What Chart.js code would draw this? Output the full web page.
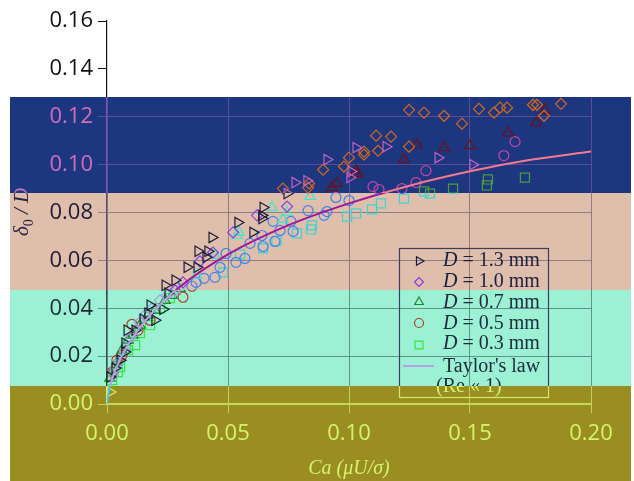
<!DOCTYPE html>
<html><head><meta charset="utf-8">
<script src="https://cdn.jsdelivr.net/npm/chart.js@4.4.1/dist/chart.umd.min.js"></script>
<style>
html,body{margin:0;padding:0;background:#fff;}
#wrap{position:relative;width:634px;height:481px;overflow:hidden;background:#fff;}
.layer{position:absolute;left:0;top:0;width:634px;height:481px;}
canvas{display:block;}
</style></head><body><div id="wrap"></div>
<script>
// ---- tick values / labels ----
const xTickValues = [0, 0.05, 0.10, 0.15, 0.20];
const xTickLabels = ['0.00', '0.05', '0.10', '0.15', '0.20'];
const yTickValues = [0, 0.02, 0.04, 0.06, 0.08, 0.10, 0.12, 0.14, 0.16];
const yTickLabels = ['0.00', '0.02', '0.04', '0.06', '0.08', '0.10', '0.12', '0.14', '0.16'];

// ---- series: D = 1.3 mm (right triangles) ----
const d13Ca = [0.0012,0.0012,0.0033,0.0054,0.0074,0.0074,0.0083,0.0116,0.0149,0.0169,0.0178,0.0198,0.0231,0.0252,0.0240,0.0281,0.0331,0.0372,0.0376,0.0417,0.0409,0.0434,0.0541,0.0603,0.0640,0.0640,0.0645,0.0744,0.0777,0.0826,0.0909,0.1004,0.1008,0.1029,0.1153,0.1368,0.1512];
const d13Delta = [0.0050,0.0113,0.0150,0.0183,0.0217,0.0254,0.0308,0.0308,0.0354,0.0379,0.0413,0.0350,0.0396,0.0463,0.0496,0.0517,0.0571,0.0571,0.0638,0.0638,0.0613,0.0696,0.0758,0.0717,0.0775,0.0788,0.0821,0.0879,0.0925,0.0933,0.1021,0.0946,0.0971,0.1071,0.1075,0.1029,0.1000];

// ---- D = 1.0 mm (diamonds) ----
const d10Ca = [0.0025,0.0037,0.0054,0.0074,0.0095,0.0116,0.0136,0.0157,0.0186,0.0219,0.0248,0.0281,0.0314,0.0384,0.0438,0.0521,0.0620,0.0744,0.0727,0.0831,0.0835,0.0893,0.0979,0.1000,0.1062,0.1062,0.1120,0.1112,0.1174,0.1248,0.1248,0.1310,0.1393,0.1467,0.1537,0.1599,0.1624,0.1653,0.1760,0.1777,0.1806,0.1876];
const d10Delta = [0.0121,0.0150,0.0183,0.0225,0.0275,0.0308,0.0342,0.0371,0.0400,0.0433,0.0454,0.0475,0.0508,0.0596,0.0633,0.0717,0.0788,0.0825,0.0900,0.0904,0.0921,0.0979,0.0992,0.1029,0.1054,0.1042,0.1058,0.1121,0.1117,0.1075,0.1229,0.1217,0.1204,0.1171,0.1233,0.1217,0.1238,0.1238,0.1250,0.1250,0.1204,0.1254];

// ---- D = 0.7 mm (triangles) ----
const d07Ca = [0.0012,0.0025,0.0041,0.0062,0.0087,0.0107,0.0136,0.0169,0.0198,0.0240,0.0269,0.0302,0.0372,0.0446,0.0537,0.0545,0.0682,0.0727,0.0744,0.0839,0.0930,0.0950,0.1029,0.1033,0.1227,0.1281,0.1393,0.1500,0.1657,0.1773,0.1810];
const d07Delta = [0.0108,0.0142,0.0175,0.0225,0.0267,0.0288,0.0329,0.0371,0.0392,0.0433,0.0454,0.0483,0.0538,0.0621,0.0704,0.0717,0.0821,0.0771,0.0800,0.0867,0.0904,0.0921,0.0975,0.0962,0.1021,0.1083,0.1071,0.1079,0.1133,0.1175,0.1229];

// ---- D = 0.5 mm (circles) ----
const d05Ca = [0.0021,0.0041,0.0062,0.0103,0.0128,0.0178,0.0314,0.0351,0.0368,0.0401,0.0446,0.0467,0.0492,0.0533,0.0570,0.0591,0.0640,0.0645,0.0694,0.0686,0.0715,0.0769,0.0760,0.0831,0.0897,0.0909,0.0946,0.1000,0.1099,0.1124,0.1219,0.1277,0.1318,0.1640,0.1686];
const d05Delta = [0.0133,0.0183,0.0204,0.0333,0.0308,0.0350,0.0446,0.0492,0.0508,0.0525,0.0529,0.0571,0.0629,0.0592,0.0608,0.0671,0.0704,0.0658,0.0679,0.0763,0.0725,0.0721,0.0763,0.0808,0.0788,0.0804,0.0863,0.0850,0.0908,0.0896,0.0900,0.0925,0.0975,0.1038,0.1096];

// ---- D = 0.3 mm (squares) ----
const d03Ca = [0.0021,0.0045,0.0054,0.0087,0.0116,0.0136,0.0178,0.0219,0.0260,0.0480,0.0550,0.0645,0.0700,0.0785,0.0843,0.0847,0.0992,0.1029,0.1095,0.1132,0.1227,0.1310,0.1335,0.1430,0.1574,0.1570,0.1727];
const d03Delta = [0.0100,0.0133,0.0154,0.0225,0.0246,0.0296,0.0329,0.0400,0.0442,0.0550,0.0625,0.0650,0.0680,0.0713,0.0729,0.0746,0.0783,0.0796,0.0813,0.0838,0.0858,0.0888,0.0879,0.0900,0.0938,0.0913,0.0946];

// ---- Taylor's law curve ----
const taylorCa = [0, 0.001, 0.0025, 0.005, 0.01, 0.02, 0.03, 0.05, 0.075, 0.10, 0.125, 0.15, 0.175, 0.20];
const taylorDelta = [0, 0.0065, 0.0116, 0.0178, 0.0269, 0.0396, 0.0489, 0.0625, 0.0747, 0.0838, 0.0912, 0.0972, 0.1020, 0.1055];

const seriesNames = ['1.3', '1.0', '0.7', '0.5', '0.3'];
const seriesCa = [d13Ca, d10Ca, d07Ca, d05Ca, d03Ca];
const seriesDelta = [d13Delta, d10Delta, d07Delta, d05Delta, d03Delta];
const seriesStyle = [
  {pointStyle:'triangle', rotation:90, radius:6},
  {pointStyle:'rectRot', rotation:0, radius:5.5},
  {pointStyle:'triangle', rotation:0, radius:6},
  {pointStyle:'circle', rotation:0, radius:5},
  {pointStyle:'rect', rotation:0, radius:6.4}
];
const legendStyle = [
  {pointStyle:'triangle', rotation:90, radius:5},
  {pointStyle:'rectRot', rotation:0, radius:4.5},
  {pointStyle:'triangle', rotation:0, radius:5},
  {pointStyle:'circle', rotation:0, radius:4.5},
  {pointStyle:'rect', rotation:0, radius:5.6}
];

const layers = [
  {base:true, bg:'#ffffff', tick:'#111111', axis:'#111111'},
  {top:97, bottom:193, bg:'#1c3780', tick:'#d46cbc', grid:'#5a4a98', axis:'#7a56a8',
   series:['#c262bc','#d4681c','#701014','#c844a8','#4c9c3c'], taylor:'#f87890',
   text:'#d46cbc', border:'#7a56a8', title:'#c46cb4'},
  {top:193, bottom:290, bg:'#dfbeab', tick:'#1c1a3a', grid:'#8e7e84', axis:'#5c4c6c',
   series:['#1c1c3c','#8c3ce4','#40e6c8','#3c84f0','#3cd6d2'], taylor:'#a01898',
   text:'#1c1e40', border:'#3c3c5c', title:'#2c2244'},
  {top:290, bottom:386, bg:'#9cf0d4', tick:'#1c2a34', grid:'#5e948c', axis:'#3c4c5c',
   series:['#1c1c2e','#a898e4','#1e8c2e','#b03c22','#30e83a'], taylor:'#b4a0e4',
   text:'#1c2a3c', border:'#3c3c5c', title:'#1c2a34'},
  {top:386, bottom:481, bg:'#9a8e22', tick:'#d4f46c', grid:'#c2d256', axis:'#c8dc5c',
   series:['#d8f070','#d8f070','#d8f070','#d8f070','#d8f070'], taylor:'#44c4ec',
   text:'#d4f46c', border:'#d0ec60', title:'#d4f46c'}
];

function zip(xs, ys){ return xs.map((x,i)=>({x:x, y:ys[i]})); }

function drawMarker(ctx, st, x, y){
  if (Chart.helpers && Chart.helpers.drawPoint) {
    Chart.helpers.drawPoint(ctx, {pointStyle:st.pointStyle, rotation:st.rotation, radius:st.radius, borderWidth:1.2}, x, y);
  }
}

function makeOverlayPlugin(layer){
  return {
    id:'overlay'+(layer.top||0),
    afterDraw(chart){
      if (layer.base) return;
      const ctx = chart.ctx;
      ctx.save();
      // legend box
      ctx.strokeStyle = layer.border; ctx.lineWidth = 1.2;
      ctx.strokeRect(399.5, 248.5, 149, 149);
      const rowsY = [261, 282, 302, 323, 345];
      const baseY = [266, 287, 308, 329, 349];
      for (let i=0;i<5;i++){
        ctx.strokeStyle = layer.series[i]; ctx.fillStyle = 'rgba(0,0,0,0)';
        drawMarker(ctx, legendStyle[i], 419, rowsY[i]);
        ctx.fillStyle = layer.text; ctx.textBaseline = 'alphabetic'; ctx.textAlign='left';
        ctx.font = 'italic 20px "Liberation Serif"';
        ctx.fillText('D', 443, baseY[i]);
        const w = ctx.measureText('D').width;
        ctx.font = '20px "Liberation Serif"';
        ctx.fillText(' = ' + seriesNames[i] + ' mm', 443 + w, baseY[i]);
      }
      ctx.strokeStyle = layer.taylor; ctx.lineWidth = 2;
      ctx.beginPath(); ctx.moveTo(403, 366); ctx.lineTo(434, 366); ctx.stroke();
      ctx.fillStyle = layer.text; ctx.font = '20px "Liberation Serif"';
      ctx.fillText("Taylor's law", 443, 372);
      ctx.fillText('(Re \u00AB 1)', 436, 392);
      // x title
      ctx.fillStyle = layer.title; ctx.textAlign = 'center';
      ctx.font = 'italic 20px "Liberation Serif"';
      ctx.fillText('Ca (\u03BCU/\u03C3)', 349, 474);
      // y title
      ctx.translate(28, 236); ctx.rotate(-Math.PI/2);
      ctx.textAlign = 'left';
      ctx.font = 'italic 21px "Liberation Serif"';
      ctx.fillText('\u03B4', 0, 0);
      let px = ctx.measureText('\u03B4').width;
      ctx.font = '14px "Liberation Serif"';
      ctx.fillText('0', px, 5);
      px += ctx.measureText('0').width;
      ctx.font = 'italic 21px "Liberation Serif"';
      ctx.fillText(' / D', px, 0);
      ctx.restore();
    }
  };
}

const wrap = document.getElementById('wrap');
layers.forEach(layer => {
  const div = document.createElement('div');
  div.className = 'layer';
  div.style.background = layer.bg;
  if (!layer.base) div.style.clipPath = 'inset(' + layer.top + 'px 3px ' + (481 - layer.bottom) + 'px 10px)';
  const cv = document.createElement('canvas');
  cv.width = 634; cv.height = 481;
  cv.style.width = '634px'; cv.style.height = '481px';
  div.appendChild(cv); wrap.appendChild(div);

  const datasets = [];
  if (!layer.base) {
    datasets.push({
      label:"Taylor's law", data: zip(taylorCa, taylorDelta), showLine:true, pointRadius:0,
      borderColor: layer.taylor, borderWidth: 2, cubicInterpolationMode:'monotone', fill:false
    });
    for (let i=0;i<5;i++){
      datasets.push({
        label:'D = ' + seriesNames[i] + ' mm', data: zip(seriesCa[i], seriesDelta[i]),
        showLine:false, pointStyle: seriesStyle[i].pointStyle, pointRotation: seriesStyle[i].rotation,
        pointRadius: seriesStyle[i].radius, pointBorderWidth: 1.2,
        pointBorderColor: layer.series[i], borderColor: layer.series[i],
        pointBackgroundColor:'rgba(0,0,0,0)', backgroundColor:'rgba(0,0,0,0)', clip:false
      });
    }
  }

  new Chart(cv.getContext('2d'), {
    type:'scatter',
    data:{datasets},
    options:{
      responsive:false, animation:false, events:[], devicePixelRatio:1,
      layout:{padding:{top:21, right:43, left:0, bottom:0}},
      plugins:{legend:{display:false}, tooltip:{enabled:false}, title:{display:false}},
      scales:{
        x:{
          type:'linear', min:0, max:0.2,
          afterFit(s){ s.height = 77; },
          afterBuildTicks(s){ s.ticks = xTickValues.map(v=>({value:v})); },
          ticks:{ callback:(v,i)=>xTickLabels[i], color:layer.tick, padding:8,
                  font:{family:'"Open Sans"', size:22}, maxRotation:0, autoSkip:false },
          grid:{ display:true, drawOnChartArea: !layer.base, color: layer.grid || layer.axis,
                 tickColor: layer.grid || layer.axis, tickLength:9, lineWidth:1 },
          border:{ display:true, color: layer.axis, width:1.2 }
        },
        y:{
          type:'linear', min:0, max:0.16,
          afterFit(s){ s.width = 107; },
          afterBuildTicks(s){ s.ticks = yTickValues.map(v=>({value:v})); },
          ticks:{ callback:(v,i)=>yTickLabels[i], color:layer.tick, padding:5,
                  font:{family:'"Open Sans"', size:22}, autoSkip:false },
          grid:{ display:true, drawOnChartArea: !layer.base, color: layer.grid || layer.axis,
                 tickColor: layer.base ? layer.axis : layer.grid, tickLength:9, lineWidth:1 },
          border:{ display:true, color: layer.axis, width:1.2 }
        }
      }
    },
    plugins:[makeOverlayPlugin(layer)]
  });
});
</script>
</body></html>
